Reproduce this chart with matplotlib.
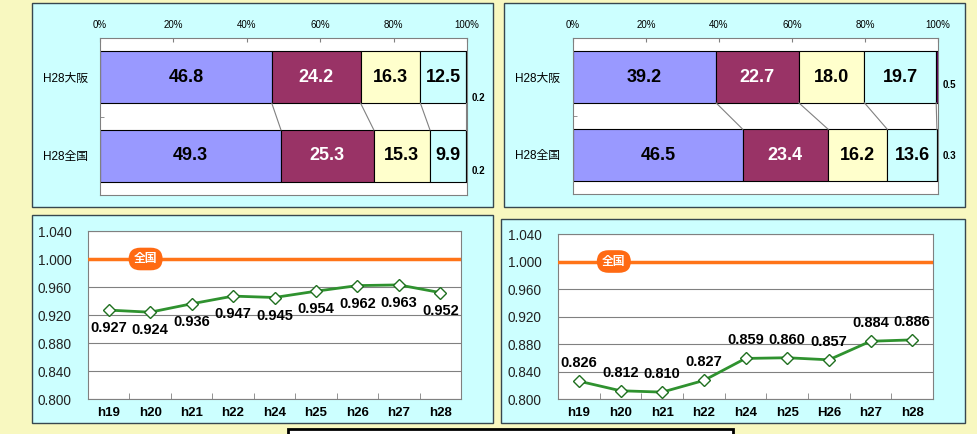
import matplotlib.pyplot as plt
from matplotlib.patches import Rectangle

plt.rcParams['font.family'] = ['Liberation Sans', 'Noto Sans CJK JP']

# data
bar_rows = ['H28大阪', 'H28全国']
bar_colors = ['#9999FF', '#993366', '#FFFFCC', '#CCFFFF', '#660066']
left_osaka = [46.8, 24.2, 16.3, 12.5, 0.2]
left_zenkoku = [49.3, 25.3, 15.3, 9.9, 0.2]
right_osaka = [39.2, 22.7, 18.0, 19.7, 0.5]
right_zenkoku = [46.5, 23.4, 16.2, 13.6, 0.3]

years_left = ['h19', 'h20', 'h21', 'h22', 'h24', 'h25', 'h26', 'h27', 'h28']
years_right = ['h19', 'h20', 'h21', 'h22', 'h24', 'h25', 'H26', 'h27', 'h28']
index_left = [0.927, 0.924, 0.936, 0.947, 0.945, 0.954, 0.962, 0.963, 0.952]
index_right = [0.826, 0.812, 0.810, 0.827, 0.859, 0.860, 0.857, 0.884, 0.886]

W, H = 977, 434
fig = plt.figure(figsize=(W / 100, H / 100), dpi=100)
fig.patch.set_facecolor('#F8F8C0')


def box(x0, y0, x1, y1):
    # pixel box (from top-left) -> figure fraction
    return [x0 / W, 1 - y1 / H, (x1 - x0) / W, (y1 - y0) / H]


def panel(x0, y0, x1, y1, fc='#CCFFFF', ec='#37474F', lw=1.0, z=-10):
    l, b, w, h = box(x0, y0, x1, y1)
    fig.add_artist(Rectangle((l, b), w, h, transform=fig.transFigure,
                             fc=fc, ec=ec, lw=lw, clip_on=False, zorder=z))


def bar_chart(rect, rows, small_dy):
    ax = fig.add_axes(box(*rect))
    ax.set_facecolor('white')
    bh = 0.66
    cums = []
    for i, vals in enumerate(rows):
        tot = sum(vals)
        pct = [v / tot * 100 for v in vals]
        left = 0
        edges = []
        for j, (v, p) in enumerate(zip(vals, pct)):
            ax.barh(i, p, left=left, height=bh, color=bar_colors[j],
                    edgecolor='black', lw=0.8)
            if j < 4:
                ax.text(left + p / 2, i, f'{v:.1f}', ha='center', va='center',
                        fontsize=13, fontweight='bold',
                        color='white' if j == 1 else 'black')
            else:
                ax.annotate(f'{v:.1f}', (100, i), xytext=(8, -small_dy[i]),
                            textcoords='offset points', ha='center',
                            va='center', fontsize=7, fontweight='bold',
                            annotation_clip=False)
            left += p
            edges.append(left)
        cums.append(edges)
    # series lines between bars
    for a, b in zip(cums[0][:4], cums[1][:4]):
        ax.plot([a, b], [bh / 2, 1 - bh / 2], color='#808080', lw=0.8)
    ax.set_xlim(0, 100)
    ax.set_ylim(1.5, -0.5)
    ax.xaxis.tick_top()
    ax.set_xticks(range(0, 101, 20), [f'{t}%' for t in range(0, 101, 20)])
    ax.tick_params(axis='x', direction='in', length=3, labelsize=7, pad=6,
                   color='#808080')
    ax.set_yticks([0, 1], bar_rows)
    ax.set_yticks([0.5], minor=True)
    ax.tick_params(axis='y', which='major', length=0, labelsize=8.5, pad=9)
    ax.tick_params(axis='y', which='minor', direction='in', length=3,
                   color='#808080')
    for s in ax.spines.values():
        s.set_color('#808080')
    return ax


def line_chart(rect, labels, values, above, zen_x):
    ax = fig.add_axes(box(*rect))
    ax.set_facecolor('white')
    x = list(range(len(values)))
    ax.axhline(1.0, color='#FF7418', lw=2.5, zorder=3)
    ax.text(zen_x, 1.0, '全国', ha='center', va='center', fontsize=8.5,
            fontweight='bold', color='white', zorder=4,
            bbox=dict(boxstyle='round,pad=0.45,rounding_size=1.0',
                      fc='#FF6A13', ec='none'))
    ax.plot(x, values, color='#2F922F', lw=2, marker='D', ms=6,
            mfc='white', mec='#1F6F1F', mew=1, zorder=5)
    dy = 13 if above else -13
    for xi, v in zip(x, values):
        ax.annotate(f'{v:.3f}', (xi, v), xytext=(0, dy),
                    textcoords='offset points', ha='center', va='center',
                    fontsize=10.5, fontweight='bold', zorder=6)
    ax.set_xlim(-0.5, len(values) - 0.5)
    ax.set_ylim(0.8, 1.04)
    yt = [0.8 + 0.04 * k for k in range(7)]
    ax.set_yticks(yt, [f'{t:.3f}' for t in yt])
    ax.yaxis.grid(True, color='#808080', lw=0.8)
    ax.set_axisbelow(True)
    ax.set_xticks(x, labels)
    ax.set_xticks([k + 0.5 for k in x[:-1]], minor=True)
    ax.tick_params(axis='x', which='major', length=0, labelsize=9.5, pad=6)
    ax.tick_params(axis='x', which='minor', direction='in', length=4,
                   color='#808080')
    for t in ax.get_xticklabels():
        t.set_fontweight('bold')
    ax.tick_params(axis='y', length=0, labelsize=9.8, pad=12,
                   labelcolor='#222222')
    for s in ax.spines.values():
        s.set_color('#808080')
    return ax


# background panels
panel(32, 3, 493, 207)
panel(504, 3, 965, 207)
panel(32, 215, 493, 423)
panel(501, 219, 965, 423)

bar_chart((100, 38, 467, 195), [left_osaka, left_zenkoku], [15, 11])
bar_chart((573, 38, 938, 194), [right_osaka, right_zenkoku], [6, 1])

line_chart((88, 231, 461, 399), years_left, index_left, False, 0.89)
line_chart((558, 234, 933, 399), years_right, index_right, True, 0.84)

# white caption box cut off at the bottom
panel(288, 429, 733, 445, fc='white', ec='black', lw=2, z=5)

fig.savefig('out.png', dpi=100, facecolor=fig.get_facecolor())
